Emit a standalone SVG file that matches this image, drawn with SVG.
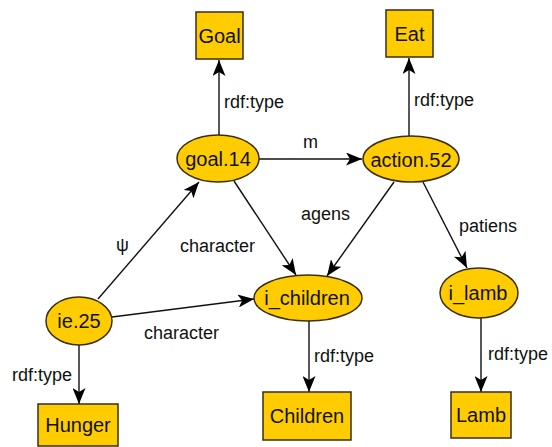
<svg xmlns="http://www.w3.org/2000/svg" width="552" height="447" viewBox="0 0 552 447">
<style>
.cls{fill:#FFCC00;stroke:#3a2e10;stroke-width:1.5}
.ins{fill:#FFCC00;stroke:#3a2e10;stroke-width:1.5}
.nt{font-family:"Liberation Sans",Arial,sans-serif;font-size:20px;fill:#111;text-anchor:middle;dominant-baseline:central}
.el{font-family:"Liberation Sans",Arial,sans-serif;font-size:18px;fill:#111}
.ed{stroke:#111;stroke-width:1.4;fill:none;marker-end:url(#ah)}
</style>
<defs>
<marker id="ah" markerUnits="userSpaceOnUse" markerWidth="16" markerHeight="13" refX="16" refY="6.5" orient="auto">
<path d="M0,0 L16,6.5 L0,13 L4,6.5 z" fill="#000"/>
</marker>
</defs>
<rect width="552" height="447" fill="#fff"/>
<g id="connectors">
<line class="ed" x1="219" y1="135" x2="219" y2="60"/>
<line class="ed" x1="409" y1="136" x2="409" y2="58"/>
<line class="ed" x1="259" y1="159" x2="362" y2="159"/>
<line class="ed" x1="98" y1="299" x2="199" y2="182"/>
<line class="ed" x1="234" y1="181" x2="296" y2="275"/>
<line class="ed" x1="394" y1="182" x2="327" y2="276"/>
<line class="ed" x1="423" y1="182" x2="467" y2="268"/>
<line class="ed" x1="112" y1="317" x2="254" y2="299"/>
<line class="ed" x1="79" y1="345" x2="79" y2="404"/>
<line class="ed" x1="309" y1="321" x2="309" y2="392"/>
<line class="ed" x1="481" y1="318" x2="481" y2="392"/>
<text class="el" x="224" y="108">rdf:type</text>
<text class="el" x="414" y="106">rdf:type</text>
<text class="el" x="303" y="148">m</text>
<text class="el" x="116" y="251">ψ</text>
<text class="el" x="180" y="252">character</text>
<text class="el" x="301" y="220">agens</text>
<text class="el" x="459" y="232">patiens</text>
<text class="el" x="144" y="339">character</text>
<text class="el" x="12" y="381">rdf:type</text>
<text class="el" x="314" y="362">rdf:type</text>
<text class="el" x="488" y="360">rdf:type</text>
</g>
<g id="Goal"><rect class="cls" x="196" y="12" width="47" height="47"/><text class="nt" x="219.5" y="36">Goal</text></g>
<g id="Eat"><rect class="cls" x="386" y="10" width="47" height="47"/><text class="nt" x="409.5" y="34">Eat</text></g>
<g id="goal14"><ellipse class="ins" cx="218" cy="158.5" rx="41" ry="23.5"/><text class="nt" x="218" y="159">goal.14</text></g>
<g id="action52"><ellipse class="ins" cx="411" cy="159" rx="48" ry="23"/><text class="nt" x="411" y="159.5">action.52</text></g>
<g id="ie25"><ellipse class="ins" cx="79" cy="321" rx="33" ry="24"/><text class="nt" x="79" y="321">ie.25</text></g>
<g id="i_children"><ellipse class="ins" cx="308" cy="298" rx="54" ry="23"/><text class="nt" x="307" y="298">i_children</text></g>
<g id="i_lamb"><ellipse class="ins" cx="479" cy="293" rx="39" ry="25"/><text class="nt" x="478" y="293">i_lamb</text></g>
<g id="Hunger"><rect class="cls" x="38" y="404" width="80" height="42"/><text class="nt" x="78" y="425">Hunger</text></g>
<g id="Children"><rect class="cls" x="263" y="392" width="88" height="48"/><text class="nt" x="307" y="416">Children</text></g>
<g id="Lamb"><rect class="cls" x="451" y="392" width="60" height="46"/><text class="nt" x="481" y="415">Lamb</text></g>
</svg>
